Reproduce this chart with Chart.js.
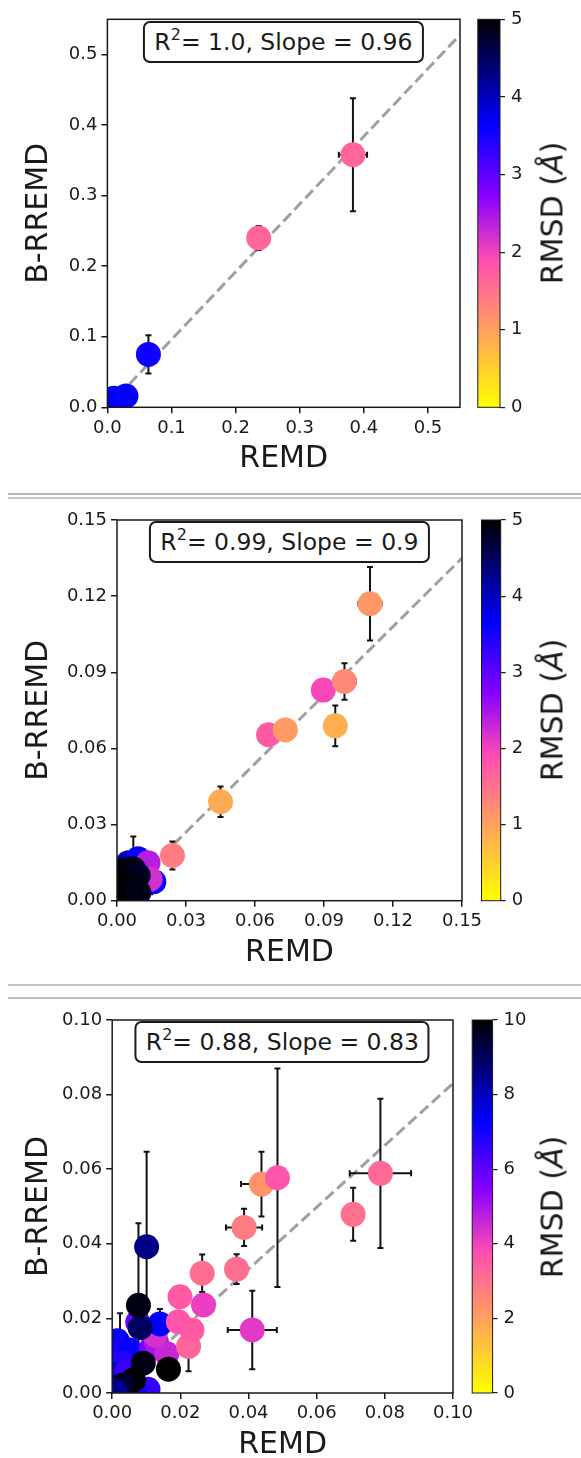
<!DOCTYPE html>
<html>
<head>
<meta charset="utf-8">
<script src="https://cdn.jsdelivr.net/npm/chart.js@4.4.1/dist/chart.umd.min.js"></script>
<style>
  body { margin: 0; background: #fff; }
  #page { position: relative; width: 581px; height: 1458px; overflow: hidden;
          font-family: "DejaVu Sans", sans-serif; color: #1a1a1a; }
  canvas { position: absolute; }
  .sep { position: absolute; left: 8px; right: 0; height: 2px; }
  .stat { position: absolute; transform: translateX(-50%); background: #fff;
          border: 2px solid #1a1a1a; border-radius: 7px; padding: 6px 9px;
          font-size: 23.5px; line-height: 26px; white-space: nowrap; }
  .stat sup { font-size: 0.68em; line-height: 0; vertical-align: 0.6em; }
  .cblabel { position: absolute; font-size: 30px; white-space: nowrap;
             transform: translate(-50%, -50%) rotate(-90deg); }
</style>
</head>
<body>
<div id="page">
  <div class="sep" style="top:493px;background:#b8b8b8"></div>
  <div class="sep" style="top:496.5px;background:#c6c6c6"></div>
  <div class="sep" style="top:984px;background:#c4c4c4"></div>
  <div class="sep" style="top:997px;background:#bcbcbc"></div>
</div>
<script>
// --- Panel 1 ---
const remd1      = [0.006, 0.010, 0.014, 0.029, 0.064, 0.236, 0.383];
const brremd1    = [0.006, 0.013, 0.009, 0.016, 0.075, 0.240, 0.358];
const remdErr1   = [0, 0, 0, 0, 0.003, 0, 0.022];
const brremdErr1 = [0, 0, 0, 0, 0.027, 0.017, 0.080];
const rmsd1      = [4.4, 3.6, 3.7, 3.6, 3.55, 1.65, 1.65];
const ticks1     = [0, 0.1, 0.2, 0.3, 0.4, 0.5];
const cbTicks1   = [0, 1, 2, 3, 4, 5];

// --- Panel 2 ---
const remd2      = [0.0050, 0.0092, 0.0160, 0.0135, 0.0144, 0.0071, 0.0030, 0.0060, 0.0092, 0.0010, 0.0040, 0.0080,
                    0.0095, 0.0020, 0.0060, 0.0088, 0.0241, 0.0450, 0.0659, 0.0732, 0.0897, 0.0949, 0.0989, 0.1100];
const brremd2    = [0.0150, 0.0165, 0.0075, 0.0150, 0.0085, 0.0125, 0.0120, 0.0125, 0.0100, 0.0080, 0.0070, 0.0060,
                    0.0030, 0.0030, 0.0020, 0.0045, 0.0178, 0.0390, 0.0654, 0.0673, 0.0830, 0.0689, 0.0864, 0.1170];
const remdErr2   = [0, 0, 0, 0, 0, 0, 0, 0, 0, 0, 0, 0,
                    0, 0, 0, 0, 0.002, 0.002, 0.001, 0.002, 0, 0.004, 0.005, 0.005];
const brremdErr2 = [0, 0, 0, 0, 0.006, 0.0128, 0, 0, 0, 0, 0, 0,
                    0, 0, 0, 0, 0.0055, 0.006, 0.001, 0.002, 0, 0.008, 0.0072, 0.0145];
const rmsd2      = [4.1, 3.6, 3.6, 2.4, 2.2, 4.9, 5, 4.9, 4.8, 5, 5, 4.9,
                    4.8, 5, 5, 4.9, 1.4, 0.9, 1.75, 1.05, 1.95, 0.85, 1.25, 1.1];
const ticks2     = [0, 0.03, 0.06, 0.09, 0.12, 0.15];
const cbTicks2   = [0, 1, 2, 3, 4, 5];

// --- Panel 3 ---
const remd3      = [0.0015, 0.0023, 0.0050, 0.0030, 0.0008, 0.0105, 0.0065, 0.0075, 0.0115, 0.0130, 0.0160, 0.0126,
                    0.0140, 0.0082, 0.0077, 0.0101, 0.0043, 0.0091, 0.0165, 0.0062, 0.0028, 0.0008,
                    0.0224, 0.0234, 0.0194, 0.0199, 0.0268, 0.0264, 0.0365, 0.0387, 0.0411, 0.0438, 0.0485, 0.0707, 0.0787];
const brremd3    = [0.0140, 0.0120, 0.0115, 0.0080, 0.0050, 0.0010, 0.0010, 0.0190, 0.0120, 0.0135, 0.0105, 0.0155,
                    0.0185, 0.0175, 0.0235, 0.0392, 0.0057, 0.0080, 0.0064, 0.0035, 0.0021, 0.0005,
                    0.0125, 0.0169, 0.0191, 0.0258, 0.0236, 0.0321, 0.0332, 0.0444, 0.0169, 0.0560, 0.0577, 0.0479, 0.0589];
const remdErr3   = [0, 0, 0, 0, 0, 0, 0, 0, 0, 0, 0, 0,
                    0, 0, 0, 0, 0, 0, 0, 0, 0, 0,
                    0, 0, 0, 0, 0, 0, 0, 0.0053, 0.0072, 0.006, 0, 0, 0.009];
const brremdErr3 = [0, 0.0094, 0, 0, 0, 0.003, 0, 0, 0, 0, 0, 0,
                    0.004, 0, 0.022, 0.0255, 0, 0, 0, 0, 0, 0,
                    0.0067, 0, 0, 0, 0, 0.005, 0.004, 0.005, 0.0105, 0.0087, 0.0293, 0.0071, 0.020];
const rmsd3      = [7.4, 7.0, 7.2, 6.8, 7.6, 6.6, 7.0, 5.8, 5.6, 5.0, 4.6, 4.4,
                    7.3, 9.0, 9.8, 8.6, 6.5, 9.8, 10, 10, 9.5, 8.5,
                    3.3, 3.5, 3.6, 3.5, 4.1, 3.1, 3.1, 2.8, 4.2, 2.3, 3.6, 3.0, 3.2];
const ticks3     = [0, 0.02, 0.04, 0.06, 0.08, 0.10];
const cbTicks3   = [0, 2, 4, 6, 8, 10];

// --- fit summary ---
const r2Text  = ['1.0', '0.99', '0.88'];
const slopes  = [0.96, 0.9, 0.83];
const xTitle  = 'REMD';
const yTitle  = 'B-RREMD';
const cbTitle = 'RMSD (<i>Å</i>)';

const FONT = '"DejaVu Sans", sans-serif';
const INK = '#1a1a1a';

// reversed gnuplot2-like colormap, f in [0,1]
function rmsdColor(f) {
    const cl = v => Math.min(1, Math.max(0, v));
    const t = 0.92 * (1 - cl(f));
    const r = cl(t / 0.32 - 0.78125);
    const g = cl(2 * t - 0.84);
    const b = cl(t < 0.25 ? 4 * t : (t < 0.92 ? -2 * t + 1.84 : t / 0.08 - 11.5));
    return `rgb(${Math.round(r * 255)},${Math.round(g * 255)},${Math.round(b * 255)})`;
}

// error bars under the markers
const errorBars = {
    id: 'errorBars',
    beforeDatasetDraw(chart, args) {
        const ds = chart.data.datasets[args.index];
        if (!ds.yErr) return;
        const { ctx, chartArea: a, scales: { x, y } } = chart;
        const cap = 3;
        ctx.save();
        ctx.beginPath();
        ctx.rect(a.left, a.top, a.width, a.height);
        ctx.clip();
        ctx.strokeStyle = '#111';
        ctx.lineWidth = 2;
        ds.data.forEach((pt, i) => {
            const px = x.getPixelForValue(pt.x), py = y.getPixelForValue(pt.y);
            const ex = ds.xErr[i], ey = ds.yErr[i];
            ctx.beginPath();
            if (ey) {
                const t = y.getPixelForValue(pt.y + ey), b = y.getPixelForValue(pt.y - ey);
                ctx.moveTo(px, t); ctx.lineTo(px, b);
                ctx.moveTo(px - cap, t); ctx.lineTo(px + cap, t);
                ctx.moveTo(px - cap, b); ctx.lineTo(px + cap, b);
            }
            if (ex) {
                const l = x.getPixelForValue(pt.x - ex), r = x.getPixelForValue(pt.x + ex);
                ctx.moveTo(l, py); ctx.lineTo(r, py);
                ctx.moveTo(l, py - cap); ctx.lineTo(l, py + cap);
                ctx.moveTo(r, py - cap); ctx.lineTo(r, py + cap);
            }
            ctx.stroke();
        });
        ctx.restore();
    }
};

// box around the plot area
const frame = {
    id: 'frame',
    afterDraw(chart, args, opts) {
        const { ctx, chartArea: a } = chart;
        ctx.save();
        ctx.strokeStyle = INK;
        ctx.lineWidth = opts.width || 1.5;
        ctx.strokeRect(a.left, a.top, a.width, a.height);
        ctx.restore();
    }
};

const panels = [
    { x: remd1, y: brremd1, xErr: remdErr1, yErr: brremdErr1, c: rmsd1, max: 0.55, ticks: ticks1, digits: 1,
      cbMax: 5, cbTicks: cbTicks1, r2: r2Text[0], slope: slopes[0],
      box: { L: 107.4, R: 459.5, T: 19.3, B: 407.3, cbL: 477.8, cbR: 500 } },
    { x: remd2, y: brremd2, xErr: remdErr2, yErr: brremdErr2, c: rmsd2, max: 0.15, ticks: ticks2, digits: 2,
      cbMax: 5, cbTicks: cbTicks2, r2: r2Text[1], slope: slopes[1],
      box: { L: 117, R: 461.9, T: 520, B: 900.7, cbL: 481.5, cbR: 500.7 } },
    { x: remd3, y: brremd3, xErr: remdErr3, yErr: brremdErr3, c: rmsd3, max: 0.10, ticks: ticks3, digits: 2,
      cbMax: 10, cbTicks: cbTicks3, r2: r2Text[2], slope: slopes[2],
      box: { L: 112.2, R: 452.6, T: 1020, B: 1393, cbL: 472.2, cbR: 492.6 } }
];

function tickFont() { return { family: FONT, size: 18 }; }

function makePanel(p) {
    const page = document.getElementById('page');
    const g = p.box;
    const top = Math.round(g.T) - 20;
    const h = Math.round(g.B + 75 - top);
    const xAxisH = h - (g.B - top);

    // main scatter
    const main = document.createElement('canvas');
    main.width = Math.round(g.R + 30);
    main.height = h;
    main.style.left = '0px';
    main.style.top = top + 'px';
    page.appendChild(main);

    const axis = (ticks, title, fit, titlePad) => ({
        type: 'linear', min: 0, max: p.max,
        afterBuildTicks: s => { s.ticks = ticks.map(v => ({ value: v })); },
        afterFit: fit,
        ticks: { callback: v => v.toFixed(p.digits), font: tickFont(), color: INK, padding: 4,
                 maxRotation: 0, autoSkip: false },
        grid: { drawOnChartArea: false, tickLength: 6, color: INK, lineWidth: 1.5 },
        border: { display: false },
        title: { display: true, text: title, font: { family: FONT, size: 30 }, color: INK, padding: titlePad }
    });

    new Chart(main, {
        type: 'scatter',
        data: {
            datasets: [{
                type: 'scatter',
                data: p.x.map((v, i) => ({ x: v, y: p.y[i] })),
                xErr: p.xErr, yErr: p.yErr,
                backgroundColor: p.c.map(v => rmsdColor(v / p.cbMax)),
                borderWidth: 0, pointRadius: 12.5, pointHoverRadius: 12.5,
                clip: 0, order: 0
            }, {
                type: 'line',
                data: [{ x: 0, y: 0 }, { x: p.max, y: p.slope * p.max }],
                borderColor: 'rgba(128,128,128,0.75)', borderWidth: 3, borderDash: [11, 5],
                pointRadius: 0, fill: false, clip: 0, order: 1
            }]
        },
        options: {
            responsive: false, animation: false, events: [],
            layout: { padding: { left: 0, right: 30, top: g.T - top, bottom: 0 } },
            plugins: { legend: { display: false }, tooltip: { enabled: false }, frame: { width: 1.5 } },
            scales: {
                x: axis(p.ticks, xTitle, s => { s.height = xAxisH; }, { top: 0, bottom: 5 }),
                y: axis(p.ticks, yTitle, s => { s.width = g.L; }, { top: 21, bottom: 0 })
            }
        },
        plugins: [errorBars, frame]
    });

    // colour bar
    const cb = document.createElement('canvas');
    const cbLeft = Math.round(g.cbL) - 10;
    cb.width = 581 - cbLeft;
    cb.height = h;
    cb.style.left = cbLeft + 'px';
    cb.style.top = top + 'px';
    page.appendChild(cb);

    new Chart(cb, {
        type: 'bar',
        data: {
            labels: [''],
            datasets: [{
                data: [p.cbMax],
                backgroundColor: ctx => {
                    const a = ctx.chart.chartArea;
                    if (!a) return 'transparent';
                    const gr = ctx.chart.ctx.createLinearGradient(0, a.bottom, 0, a.top);
                    for (let i = 0; i <= 40; i++) gr.addColorStop(i / 40, rmsdColor(i / 40));
                    return gr;
                },
                borderWidth: 0, barPercentage: 1, categoryPercentage: 1
            }]
        },
        options: {
            responsive: false, animation: false, events: [],
            layout: { padding: { left: g.cbL - cbLeft, right: 0, top: g.T - top, bottom: xAxisH } },
            plugins: { legend: { display: false }, tooltip: { enabled: false }, frame: { width: 1 } },
            scales: {
                x: { display: false },
                y: {
                    position: 'right', min: 0, max: p.cbMax,
                    afterBuildTicks: s => { s.ticks = p.cbTicks.map(v => ({ value: v })); },
                    afterFit: s => { s.width = cb.width - (g.cbR - cbLeft); },
                    ticks: { callback: v => String(v), font: tickFont(), color: INK, padding: 6 },
                    grid: { drawOnChartArea: false, tickLength: 5, color: INK, lineWidth: 1.2 },
                    border: { display: false }
                }
            }
        },
        plugins: [frame]
    });

    // fit summary box
    const stat = document.createElement('div');
    stat.className = 'stat';
    stat.innerHTML = `R<sup>2</sup>= ${p.r2}, Slope = ${p.slope}`;
    stat.style.left = ((g.L + g.R) / 2) + 'px';
    stat.style.top = (g.T + 1.4) + 'px';
    page.appendChild(stat);

    // colour bar label
    const lab = document.createElement('div');
    lab.className = 'cblabel';
    lab.innerHTML = cbTitle;
    lab.style.left = '552px';
    lab.style.top = ((g.T + g.B) / 2) + 'px';
    page.appendChild(lab);
}

panels.forEach(makePanel);
</script>
</body>
</html>
